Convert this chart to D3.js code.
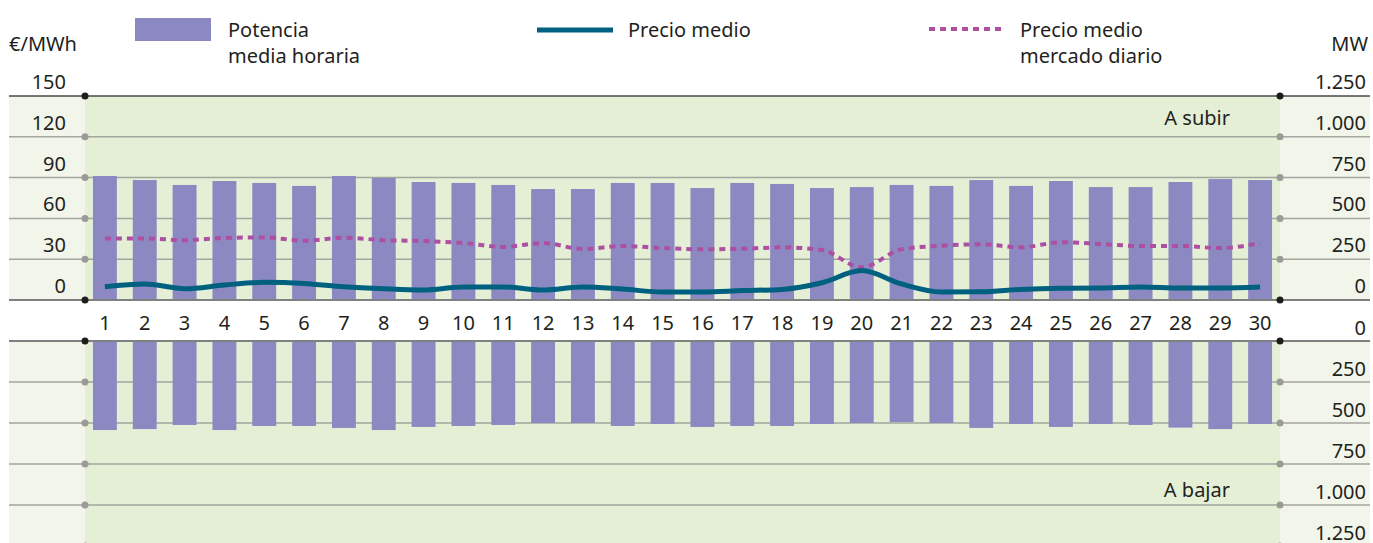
<!DOCTYPE html>
<html>
<head>
<meta charset="utf-8">
<script src="https://d3js.org/d3.v7.min.js"></script>
<style>
  body { margin: 0; background: #fff; }
  text { font-family: "Noto Sans", sans-serif; font-size: 20px; fill: #231f20; }
</style>
</head>
<body>
<script>
// day of month
var days = d3.range(1, 31);
// MW a subir (upper bars)
var subir = [760, 735, 705, 729, 717, 699, 760, 748, 723, 717, 705, 680, 680, 717, 717,
             686, 717, 711, 686, 692, 705, 699, 735, 699, 729, 692, 692, 723, 741, 735];
// MW a bajar (lower bars)
var bajar = [543, 537, 512, 543, 518, 518, 530, 543, 524, 518, 512, 500, 500, 518, 506,
             524, 518, 518, 506, 500, 494, 500, 530, 506, 524, 506, 512, 528, 537, 506];
// precio medio, €/MWh
var precio = [9.8, 11.8, 8.3, 11, 13, 12.2, 9.8, 8.3, 7.4, 9.6, 9.6, 7.4, 9.6, 8, 5.9,
              5.9, 6.9, 7.8, 12.7, 21.6, 11.8, 5.9, 6.1, 7.8, 8.6, 8.8, 9.6, 8.8, 8.8, 9.6];
// precio medio mercado diario, €/MWh
var diario = [45.3, 45.3, 44, 45.6, 46, 43.6, 45.8, 44, 43.4, 41.9, 39, 41.9, 37.5, 39.7, 38.2,
              37.3, 37.7, 38.7, 36.8, 24, 37.3, 39.9, 41, 38.7, 42.4, 41.2, 39.7, 39.7, 38.2, 41.9];
var priceTicks = [0, 30, 60, 90, 120, 150];
var mwTicks = [0, 250, 500, 750, 1000, 1250];

var width = 1373, height = 543;
var left = 85, right = 1280, outerL = 9, outerR = 1370;

var svg = d3.select("body").append("svg")
    .attr("width", width)
    .attr("height", height);

var es = d3.formatLocale({decimal: ",", thousands: ".", grouping: [3], currency: ["", "€"]});
var fmt = es.format(",");

var x = d3.scaleBand().domain(days).range([left, right]).paddingInner(0.4).paddingOuter(0.2);
var yPrice = d3.scaleLinear().domain([0, 150]).range([300, 96]);
var yUp = d3.scaleLinear().domain([0, 1250]).range([300, 96]);
var yDown = d3.scaleLinear().domain([0, 1250]).range([341, 546]);

// backgrounds
var bg = svg.append("g");
bg.append("rect").attr("x", outerL).attr("y", 96).attr("width", outerR - outerL).attr("height", 204).attr("fill", "#f2f6ea");
bg.append("rect").attr("x", outerL).attr("y", 341).attr("width", outerR - outerL).attr("height", height - 341).attr("fill", "#f2f6ea");
bg.append("rect").attr("x", left).attr("y", 96).attr("width", right - left).attr("height", 204).attr("fill", "#e5efd6");
bg.append("rect").attr("x", left).attr("y", 341).attr("width", right - left).attr("height", height - 341).attr("fill", "#e5efd6");

// grid lines
var grid = svg.append("g");
grid.selectAll(".gu")
    .data(priceTicks.filter(function(d) { return d > 0 && d < 150; }))
    .enter().append("line")
    .attr("x1", outerL).attr("x2", outerR)
    .attr("y1", function(d) { return yPrice(d); })
    .attr("y2", function(d) { return yPrice(d); })
    .attr("stroke", "#a3a59e").attr("stroke-width", 1.5);
grid.selectAll(".gd")
    .data(mwTicks.filter(function(d) { return d > 0; }))
    .enter().append("line")
    .attr("x1", outerL).attr("x2", outerR)
    .attr("y1", function(d) { return yDown(d); })
    .attr("y2", function(d) { return yDown(d); })
    .attr("stroke", "#a3a59e").attr("stroke-width", 1.5);

// bars
svg.append("g").selectAll("rect")
    .data(subir)
    .enter().append("rect")
    .attr("x", function(d, i) { return x(days[i]); })
    .attr("y", function(d) { return yUp(d); })
    .attr("width", x.bandwidth())
    .attr("height", function(d) { return yUp(0) - yUp(d); })
    .attr("fill", "#8c89c2");
svg.append("g").selectAll("rect")
    .data(bajar)
    .enter().append("rect")
    .attr("x", function(d, i) { return x(days[i]); })
    .attr("y", yDown(0))
    .attr("width", x.bandwidth())
    .attr("height", function(d) { return yDown(d) - yDown(0); })
    .attr("fill", "#8c89c2");

// top and zero lines
svg.append("line").attr("x1", outerL).attr("x2", outerR).attr("y1", yPrice(150)).attr("y2", yPrice(150))
    .attr("stroke", "#4a4a48").attr("stroke-width", 1.5);
svg.append("line").attr("x1", outerL).attr("x2", outerR).attr("y1", yPrice(0)).attr("y2", yPrice(0))
    .attr("stroke", "#808080").attr("stroke-width", 2);
svg.append("line").attr("x1", outerL).attr("x2", outerR).attr("y1", yDown(0)).attr("y2", yDown(0))
    .attr("stroke", "#808080").attr("stroke-width", 2);

// price lines
var cx = function(d, i) { return x(days[i]) + x.bandwidth() / 2; };
var lineDiario = d3.line().x(cx).y(function(d) { return yPrice(d); }).curve(d3.curveMonotoneX);
svg.append("path").datum(diario)
    .attr("d", lineDiario)
    .attr("fill", "none").attr("stroke", "#ad4fa3").attr("stroke-width", 4)
    .attr("stroke-dasharray", "6,5");
svg.append("path").datum(precio)
    .attr("d", lineDiario)
    .attr("fill", "none").attr("stroke", "#00607f").attr("stroke-width", 5);

// dots on the frame
var dotRows = [];
priceTicks.forEach(function(t) { dotRows.push({y: yPrice(t), dark: t === 0 || t === 150}); });
mwTicks.forEach(function(t) { dotRows.push({y: yDown(t), dark: t === 0}); });
[left, right].forEach(function(px) {
    svg.append("g").selectAll("circle")
        .data(dotRows)
        .enter().append("circle")
        .attr("cx", px)
        .attr("cy", function(d) { return d.y; })
        .attr("r", 3.5)
        .attr("fill", function(d) { return d.dark ? "#1d1d1b" : "#9a9b98"; });
});

// axis labels
svg.append("g").selectAll("text")
    .data(priceTicks)
    .enter().append("text")
    .attr("x", 66)
    .attr("y", function(d) { return yPrice(d) - 7; })
    .attr("text-anchor", "end")
    .text(function(d) { return d; });
svg.append("g").selectAll("text")
    .data(mwTicks)
    .enter().append("text")
    .attr("x", 1366)
    .attr("y", function(d) { return yUp(d) - 7; })
    .attr("text-anchor", "end")
    .text(fmt);
svg.append("g").selectAll("text")
    .data(mwTicks)
    .enter().append("text")
    .attr("x", 1366)
    .attr("y", function(d) { return yDown(d) - 6; })
    .attr("text-anchor", "end")
    .text(fmt);

// day labels
var xAxis = d3.axisBottom(x).tickSize(0).tickPadding(0);
var gx = svg.append("g")
    .attr("transform", "translate(0,310)")
    .call(xAxis);
gx.select(".domain").remove();
gx.selectAll("text")
    .attr("dy", 0).attr("y", 20)
    .style("font-family", "'Noto Sans', sans-serif")
    .style("font-size", "20px")
    .attr("fill", "#231f20");

// unit labels and panel labels
svg.append("text").attr("x", 9).attr("y", 51).text("€/MWh");
svg.append("text").attr("x", 1368).attr("y", 51).attr("text-anchor", "end").text("MW");
svg.append("text").attr("x", 1230).attr("y", 125).attr("text-anchor", "end").text("A subir");
svg.append("text").attr("x", 1230).attr("y", 497).attr("text-anchor", "end").text("A bajar");

// legend
var legend = svg.append("g");
legend.append("rect").attr("x", 135).attr("y", 18).attr("width", 76).attr("height", 23).attr("fill", "#8c89c2");
legend.append("text").attr("x", 228).attr("y", 37).text("Potencia");
legend.append("text").attr("x", 228).attr("y", 63).text("media horaria");
legend.append("line").attr("x1", 537).attr("x2", 613).attr("y1", 30).attr("y2", 30)
    .attr("stroke", "#00607f").attr("stroke-width", 5);
legend.append("text").attr("x", 628).attr("y", 37).text("Precio medio");
legend.append("line").attr("x1", 929).attr("x2", 1005).attr("y1", 29).attr("y2", 29)
    .attr("stroke", "#ad4fa3").attr("stroke-width", 4).attr("stroke-dasharray", "6,5");
legend.append("text").attr("x", 1020).attr("y", 37).text("Precio medio");
legend.append("text").attr("x", 1020).attr("y", 63).text("mercado diario");
</script>
</body>
</html>
